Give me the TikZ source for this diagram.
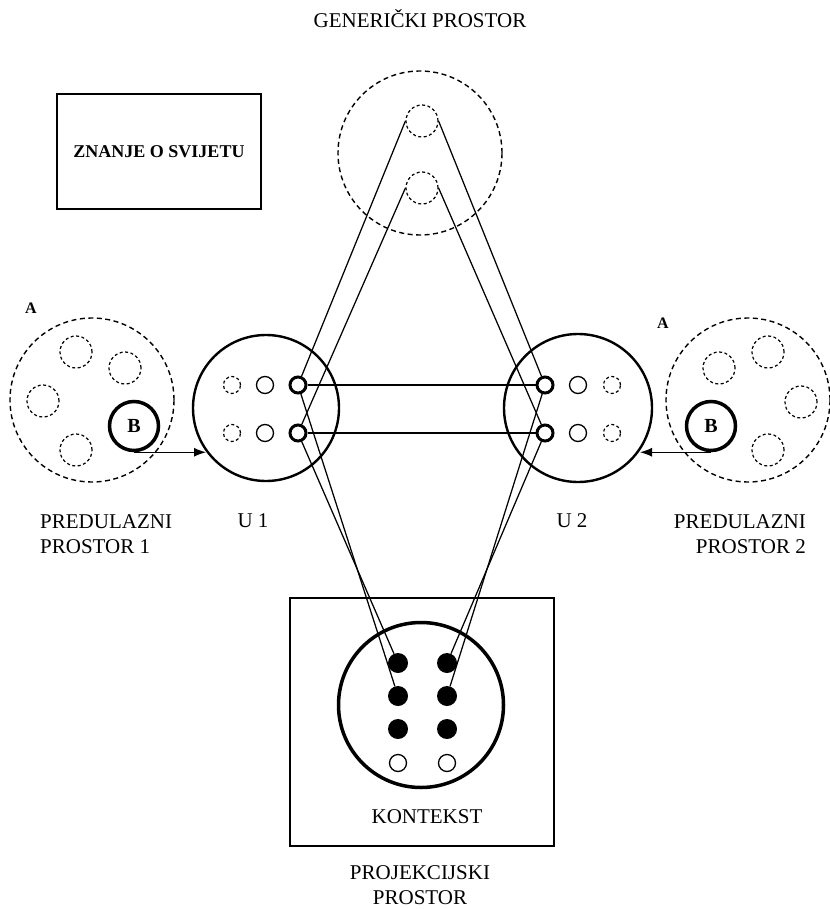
\documentclass[tikz,border=0pt]{standalone}
\usepackage{fontspec}
\setmainfont{Liberation Serif}
\usetikzlibrary{arrows.meta,calc}
\begin{document}
\begin{tikzpicture}[x=1pt,y=-1pt,
  conn/.style={line width=1.25pt},
  bond/.style={line width=2.5pt},
  arr/.style={line width=1.2pt,-{Latex[length=12pt,width=9pt]}},
  bigdash/.style={circle,draw,dash pattern=on 5pt off 3.5pt,line width=1.4pt,inner sep=0pt,minimum size=#1},
  smalldash/.style={circle,draw,dash pattern=on 3pt off 2.5pt,line width=1.2pt,inner sep=0pt,minimum size=#1},
  bigsolid/.style={circle,draw,line width=#1,inner sep=0pt},
  plainc/.style={circle,draw,line width=1.3pt,inner sep=0pt,minimum size=17pt},
  thickc/.style={circle,draw,line width=3pt,inner sep=0pt,minimum size=16pt},
  filledc/.style={circle,fill=black,inner sep=0pt,minimum size=20pt},
  openc/.style={circle,draw,line width=1.3pt,inner sep=0pt,minimum size=17pt},
  bcirc/.style={circle,draw,line width=3.5pt,inner sep=0pt,minimum size=49pt,font=\fontsize{20}{22}\selectfont\bfseries},
  lab/.style={font=\fontsize{21}{25}\selectfont,inner sep=0pt},
  blab/.style={font=\fontsize{16}{18}\selectfont\bfseries,inner sep=0pt}
]
\useasboundingbox (0,0) rectangle (829,909);

% ---------- titles and labels ----------
\node[lab] (tgen) at (420,19) {GENERIČKI PROSTOR};
\node[draw,line width=1.4pt,minimum width=204pt,minimum height=115pt,inner sep=0pt,
      font=\fontsize{18}{20}\selectfont\bfseries] (znanje) at (159,151.5) {ZNANJE O SVIJETU};

% ---------- generic space ----------
\node[bigdash=164pt] (gen) at (420,153) {};
\node[smalldash=32pt] (g1) at (422,121) {};
\node[smalldash=32pt] (g2) at (422,188) {};

% ---------- left input space ----------
\node[blab] (la) at (31,308) {A};
\node[bigdash=164pt] (lin) at (92,400) {};
\node[smalldash=32pt] (l1) at (76,352) {};
\node[smalldash=32pt] (l2) at (125,368) {};
\node[smalldash=32pt] (l3) at (43,401) {};
\node[smalldash=32pt] (l4) at (76,450) {};
\node[bcirc] (lb) at (134,426) {B};

% ---------- right input space ----------
\node[blab] (ra) at (663,323) {A};
\node[bigdash=164pt] (rin) at (748,400) {};
\node[smalldash=32pt] (r1) at (719,368) {};
\node[smalldash=32pt] (r2) at (768,352) {};
\node[smalldash=32pt] (r3) at (801,402) {};
\node[smalldash=32pt] (r4) at (768,450) {};
\node[bcirc] (rb) at (711,426) {B};

% ---------- U1 ----------
\node[bigsolid=2.4pt,minimum size=146pt] (u1) at (266,408) {};
\node[smalldash=17pt] (u1d1) at (232,385) {};
\node[smalldash=17pt] (u1d2) at (232,433) {};
\node[plainc] (u1p1) at (265,385) {};
\node[plainc] (u1p2) at (265,433) {};
\node[thickc] (u1a) at (298,385) {};
\node[thickc] (u1b) at (298,433) {};

% ---------- U2 ----------
\node[bigsolid=2.4pt,minimum size=148pt] (u2) at (578,408) {};
\node[thickc] (u2a) at (545,385) {};
\node[thickc] (u2b) at (545,433) {};
\node[plainc] (u2p1) at (578,385) {};
\node[plainc] (u2p2) at (578,433) {};
\node[smalldash=17pt] (u2d1) at (612,385) {};
\node[smalldash=17pt] (u2d2) at (612,433) {};

% ---------- context / projection ----------
\node[draw,line width=1.4pt,minimum width=264pt,minimum height=248pt,inner sep=0pt] (box) at (422,722) {};
\node[bigsolid=3.5pt,minimum size=165pt] (ctx) at (421,705) {};
\node[filledc] (c11) at (398,663) {};
\node[filledc] (c12) at (447,663) {};
\node[filledc] (c21) at (398,696) {};
\node[filledc] (c22) at (447,696) {};
\node[filledc] (c31) at (398,729) {};
\node[filledc] (c32) at (447,729) {};
\node[openc] (c41) at (398,763) {};
\node[openc] (c42) at (447,763) {};
\node[lab] (tkon) at (427,817) {KONTEKST};
\node[lab,align=center] (tproj) at (420,885.5) {PROJEKCIJSKI\\PROSTOR};

% ---------- bottom labels ----------
\node[lab,align=left,anchor=west] (tl) at (40,534.5) {PREDULAZNI\\PROSTOR 1};
\node[lab] (tu1) at (253,521) {U 1};
\node[lab] (tu2) at (572,521) {U 2};
\node[lab,align=right,anchor=east] (tr) at (806,534.5) {PREDULAZNI\\PROSTOR 2};

% ---------- connectors ----------
\draw[conn] (g1.west) -- (u1a);
\draw[conn] (g2.west) -- (u1b);
\draw[conn] (g1.east) -- (u2a);
\draw[conn] (g2.east) -- (u2b);

\draw[bond] (u1a) -- (u2a);
\draw[bond] (u1b) -- (u2b);

\draw[conn] (u1a) -- (c21);
\draw[conn] (u1b) -- (c11);
\draw[conn] (u2a) -- (c22);
\draw[conn] (u2b) -- (c12);

\coordinate (a1) at (206,451);
\coordinate (a2) at (640,451);
\draw[arr] (lb.south) -- (lb.south -| a1);
\draw[arr] (rb.south) -- (rb.south -| a2);
\end{tikzpicture}
\end{document}
